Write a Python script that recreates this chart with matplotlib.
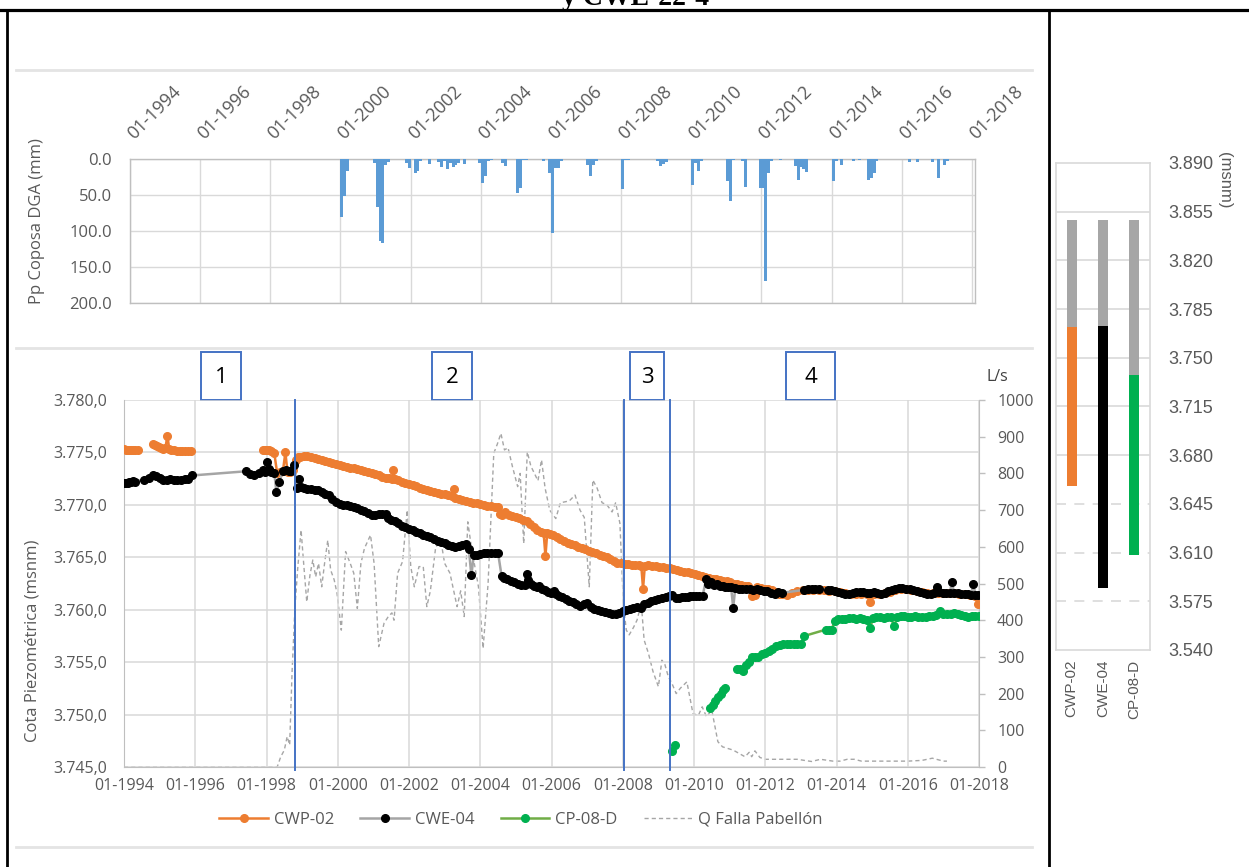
import matplotlib
matplotlib.use("Agg")
import matplotlib.pyplot as plt
from matplotlib.lines import Line2D
from matplotlib.patches import Rectangle
from matplotlib.ticker import FuncFormatter
from matplotlib.transforms import Bbox, TransformedBbox, ScaledTranslation, blended_transform_factory

NaN = float("nan")

# ---------------- Monthly precipitation, Coposa DGA (mm) ----------------
pp_month = [
    "2000-01", "2000-02", "2000-03",
    "2000-12", "2001-01", "2001-02", "2001-03", "2001-04", "2001-05",
    "2001-11", "2001-12", "2002-02", "2002-03", "2002-04",
    "2002-07", "2002-10", "2002-11", "2002-12", "2003-01", "2003-02", "2003-03", "2003-04", "2003-05", "2003-07",
    "2003-12", "2004-01", "2004-02", "2004-03", "2004-04",
    "2004-08", "2004-09",
    "2005-01", "2005-02", "2005-03", "2005-04",
    "2005-10",
    "2005-12", "2006-01", "2006-02", "2006-03", "2006-04",
    "2007-01", "2007-02", "2007-03", "2007-04",
    "2008-01", "2008-02", "2008-03",
    "2009-01", "2009-02", "2009-03", "2009-04",
    "2010-01", "2010-02", "2010-03", "2010-04",
    "2011-01", "2011-02", "2011-03", "2011-06", "2011-07",
    "2011-12", "2012-01", "2012-02", "2012-03", "2012-04",
    "2012-07",
    "2012-12", "2013-01", "2013-02", "2013-03", "2013-04",
    "2014-01", "2014-02", "2014-04", "2014-08", "2014-10",
    "2015-01", "2015-02", "2015-03", "2015-04",
    "2016-03", "2016-06", "2016-11", "2017-01", "2017-03", "2017-04",
]
pp_mm = [
    81, 52, 16,
    5, 66, 114, 116, 8, 4,
    5, 12, 20, 16, 3,
    7, 4, 11, 3, 14, 6, 11, 8, 5, 7,
    5, 33, 24, 3, 2,
    6, 10,
    47, 40, 2, 2,
    3,
    20, 103, 12, 12, 3,
    8, 23, 8, 3,
    42, 2, 2,
    3, 10, 7, 4,
    36, 5, 17, 3,
    31, 59, 2, 3, 39,
    40, 40, 170, 20, 3,
    2,
    10, 29, 11, 14, 18,
    30, 3, 8, 3, 2,
    29, 26, 19, 3,
    4, 4, 4, 27, 9, 3,
]

# ---------------- Piezometric levels (decimal year, m a.s.l.) ----------------
cwp02 = [
    (1994.00, 3775.3), (1994.05, 3775.2), (1994.10, 3775.2), (1994.15, 3775.2), (1994.20, 3775.2),
    (1994.26, 3775.2), (1994.32, 3775.2), (1994.38, 3775.2),
    (1994.60, NaN),
    (1994.80, 3775.8), (1994.86, 3775.7), (1994.92, 3775.6), (1994.98, 3775.5), (1995.04, 3775.4),
    (1995.10, 3775.3), (1995.16, 3775.4), (1995.22, 3776.6), (1995.27, 3775.3), (1995.33, 3775.2),
    (1995.40, 3775.2), (1995.48, 3775.1), (1995.56, 3775.1), (1995.64, 3775.1), (1995.72, 3775.1),
    (1995.80, 3775.1), (1995.88, 3775.1),
    (1996.90, NaN),
    (1997.90, 3775.2), (1997.96, 3775.2), (1998.02, 3775.2), (1998.08, 3775.2), (1998.14, 3775.1),
    (1998.22, 3774.9), (1998.30, 3773.0), (1998.38, 3773.1), (1998.46, 3773.2), (1998.53, 3775.0),
    (1998.59, 3773.1), (1998.66, 3773.1), (1998.74, 3773.3), (1998.82, 3774.3), (1998.88, 3774.6),
    (1998.95, 3774.6), (1999.05, 3774.7), (1999.15, 3774.7), (1999.25, 3774.6), (1999.35, 3774.5),
    (1999.45, 3774.4), (1999.55, 3774.3), (1999.65, 3774.2), (1999.75, 3774.1), (1999.85, 3774.0),
    (1999.95, 3773.9), (2000.05, 3773.8), (2000.15, 3773.7), (2000.25, 3773.6), (2000.35, 3773.5),
    (2000.45, 3773.5), (2000.55, 3773.4), (2000.65, 3773.3), (2000.75, 3773.2), (2000.85, 3773.1),
    (2000.95, 3773.0), (2001.05, 3772.9), (2001.15, 3772.8), (2001.25, 3772.7), (2001.35, 3772.6),
    (2001.45, 3772.6), (2001.52, 3772.5), (2001.56, 3773.3), (2001.60, 3772.5), (2001.70, 3772.4),
    (2001.80, 3772.2), (2001.90, 3772.1), (2002.00, 3772.0), (2002.10, 3771.9), (2002.20, 3771.8),
    (2002.30, 3771.6), (2002.40, 3771.5), (2002.50, 3771.4), (2002.60, 3771.3), (2002.70, 3771.2),
    (2002.80, 3771.1), (2002.90, 3771.0), (2003.00, 3771.0), (2003.10, 3770.9), (2003.20, 3770.8),
    (2003.25, 3771.5), (2003.30, 3770.7), (2003.40, 3770.6), (2003.50, 3770.5), (2003.60, 3770.4),
    (2003.70, 3770.3), (2003.80, 3770.2), (2003.90, 3770.2), (2004.00, 3770.1), (2004.10, 3770.0),
    (2004.20, 3769.9), (2004.30, 3769.9), (2004.40, 3769.8), (2004.50, 3769.8), (2004.55, 3769.1),
    (2004.62, 3769.0), (2004.70, 3769.3), (2004.80, 3769.0), (2004.90, 3768.9), (2005.00, 3768.8),
    (2005.10, 3768.7), (2005.20, 3768.6), (2005.30, 3768.5), (2005.40, 3768.2), (2005.50, 3767.9),
    (2005.60, 3767.6), (2005.70, 3767.4), (2005.78, 3767.3), (2005.83, 3765.1), (2005.88, 3767.3),
    (2005.95, 3767.2), (2006.05, 3767.1), (2006.15, 3766.9), (2006.25, 3766.7), (2006.35, 3766.6),
    (2006.45, 3766.4), (2006.55, 3766.3), (2006.65, 3766.2), (2006.75, 3766.0), (2006.85, 3765.9),
    (2006.95, 3765.8), (2007.05, 3765.6), (2007.15, 3765.5), (2007.25, 3765.4), (2007.35, 3765.2),
    (2007.45, 3765.1), (2007.55, 3765.0), (2007.65, 3764.8), (2007.75, 3764.6), (2007.85, 3764.5),
    (2007.95, 3764.5), (2008.05, 3764.4), (2008.15, 3764.4), (2008.25, 3764.3), (2008.35, 3764.3),
    (2008.45, 3764.3), (2008.52, 3764.2), (2008.57, 3762.0), (2008.62, 3764.2), (2008.72, 3764.3),
    (2008.82, 3764.2), (2008.92, 3764.2), (2009.02, 3764.1), (2009.12, 3764.1), (2009.22, 3764.0),
    (2009.32, 3764.0), (2009.42, 3763.9), (2009.52, 3763.8), (2009.62, 3763.7), (2009.72, 3763.6),
    (2009.82, 3763.6), (2009.92, 3763.5), (2010.02, 3763.4), (2010.12, 3763.3), (2010.22, 3763.2),
    (2010.32, 3763.1), (2010.42, 3763.0), (2010.52, 3762.9), (2010.62, 3762.9), (2010.72, 3762.8),
    (2010.82, 3762.7), (2010.92, 3762.7), (2011.02, 3762.6), (2011.12, 3762.5), (2011.22, 3762.5),
    (2011.32, 3762.4), (2011.42, 3762.3), (2011.52, 3762.3), (2011.62, 3761.3), (2011.70, 3761.4),
    (2011.78, 3762.2), (2011.88, 3762.1), (2011.98, 3762.0), (2012.08, 3762.0), (2012.18, 3761.9),
    (2012.28, 3761.7), (2012.38, 3761.5), (2012.48, 3761.5), (2012.60, 3761.4), (2012.75, 3761.6),
    (2012.90, 3761.8), (2013.05, 3761.9), (2013.20, 3761.9), (2013.35, 3761.9), (2013.50, 3761.9),
    (2013.65, 3761.9), (2013.80, 3761.8), (2013.95, 3761.8), (2014.10, 3761.7), (2014.25, 3761.6),
    (2014.40, 3761.5), (2014.55, 3761.5), (2014.70, 3761.5), (2014.85, 3761.5), (2014.95, 3760.7),
    (2015.05, 3761.5), (2015.20, 3761.5), (2015.35, 3761.6), (2015.50, 3761.7), (2015.65, 3761.9),
    (2015.80, 3762.0), (2015.95, 3762.0), (2016.10, 3761.9), (2016.25, 3761.8), (2016.40, 3761.7),
    (2016.55, 3761.6), (2016.70, 3761.6), (2016.85, 3761.6), (2017.00, 3761.6), (2017.15, 3761.6),
    (2017.30, 3761.6), (2017.45, 3761.5), (2017.60, 3761.5), (2017.75, 3761.4), (2017.90, 3761.3),
    (2017.98, 3760.5),
]

cwe04 = [
    (1994.00, 3772.1), (1994.05, 3772.1), (1994.10, 3772.1), (1994.15, 3772.15), (1994.20, 3772.2),
    (1994.25, 3772.25), (1994.30, 3772.2), (1994.55, 3772.4), (1994.70, 3772.6), (1994.80, 3772.8),
    (1994.90, 3772.75), (1995.00, 3772.6), (1995.10, 3772.4), (1995.20, 3772.4), (1995.30, 3772.5),
    (1995.40, 3772.4), (1995.50, 3772.4), (1995.60, 3772.4), (1995.70, 3772.5), (1995.80, 3772.45),
    (1995.90, 3772.8), (1997.42, 3773.2), (1997.55, 3772.9), (1997.65, 3772.8), (1997.80, 3773.0),
    (1997.90, 3773.3), (1997.96, 3773.1), (1998.00, 3774.1), (1998.06, 3773.4), (1998.14, 3773.1),
    (1998.22, 3773.0), (1998.28, 3771.2), (1998.36, 3772.2), (1998.46, 3773.2), (1998.54, 3773.3),
    (1998.62, 3773.2), (1998.70, 3773.2), (1998.78, 3773.8), (1998.85, 3771.6), (1998.92, 3772.5),
    (1998.98, 3771.7), (1999.05, 3771.6), (1999.15, 3771.55), (1999.25, 3771.5), (1999.35, 3771.45),
    (1999.45, 3771.4), (1999.55, 3771.2), (1999.65, 3771.0), (1999.75, 3770.9), (1999.85, 3770.6),
    (1999.95, 3770.3), (2000.05, 3770.1), (2000.15, 3770.0), (2000.25, 3769.95), (2000.35, 3769.9),
    (2000.45, 3769.8), (2000.55, 3769.7), (2000.65, 3769.55), (2000.75, 3769.4), (2000.85, 3769.2),
    (2000.95, 3769.05), (2001.05, 3769.0), (2001.15, 3769.1), (2001.25, 3769.1), (2001.35, 3769.15),
    (2001.42, 3768.7), (2001.50, 3768.6), (2001.60, 3768.5), (2001.70, 3768.3), (2001.80, 3768.0),
    (2001.90, 3767.9), (2002.00, 3767.7), (2002.10, 3767.6), (2002.20, 3767.4), (2002.30, 3767.3),
    (2002.40, 3767.1), (2002.50, 3767.0), (2002.60, 3766.9), (2002.70, 3766.7), (2002.80, 3766.6),
    (2002.90, 3766.5), (2003.00, 3766.4), (2003.10, 3766.2), (2003.20, 3766.1), (2003.30, 3766.0),
    (2003.40, 3766.1), (2003.50, 3766.2), (2003.60, 3766.3), (2003.68, 3765.8), (2003.75, 3763.3),
    (2003.82, 3765.2), (2003.90, 3765.2), (2004.00, 3765.3), (2004.10, 3765.4), (2004.20, 3765.4),
    (2004.30, 3765.4), (2004.40, 3765.4), (2004.50, 3765.4), (2004.60, 3763.2), (2004.68, 3763.0),
    (2004.75, 3762.9), (2004.85, 3762.7), (2004.95, 3762.6), (2005.05, 3762.5), (2005.15, 3762.4),
    (2005.25, 3762.4), (2005.30, 3763.4), (2005.35, 3762.8), (2005.42, 3762.5), (2005.50, 3762.3),
    (2005.58, 3762.2), (2005.66, 3762.3), (2005.74, 3762.0), (2005.82, 3761.9), (2005.90, 3761.7),
    (2005.98, 3761.6), (2006.06, 3761.8), (2006.14, 3761.5), (2006.22, 3761.3), (2006.30, 3761.2),
    (2006.40, 3761.0), (2006.50, 3760.8), (2006.60, 3760.7), (2006.70, 3760.5), (2006.80, 3760.4),
    (2006.90, 3760.5), (2007.00, 3760.6), (2007.10, 3760.3), (2007.20, 3760.1), (2007.30, 3760.0),
    (2007.40, 3759.9), (2007.50, 3759.8), (2007.60, 3759.7), (2007.70, 3759.6), (2007.80, 3759.6),
    (2007.90, 3759.7), (2008.00, 3759.9), (2008.10, 3760.0), (2008.20, 3760.1), (2008.30, 3760.2),
    (2008.40, 3760.3), (2008.50, 3760.2), (2008.60, 3760.5), (2008.70, 3760.6), (2008.80, 3760.8),
    (2008.90, 3760.9), (2009.00, 3761.0), (2009.10, 3761.1), (2009.20, 3761.2), (2009.30, 3761.3),
    (2009.38, 3761.4), (2009.50, 3761.1), (2009.58, 3761.1), (2009.66, 3761.2), (2009.74, 3761.2),
    (2009.82, 3761.2), (2009.90, 3761.3), (2009.98, 3761.3), (2010.06, 3761.3), (2010.14, 3761.3),
    (2010.24, 3761.3), (2010.34, 3762.9), (2010.40, 3762.5), (2010.48, 3762.6), (2010.56, 3762.4),
    (2010.64, 3762.5), (2010.72, 3762.3), (2010.80, 3762.3), (2010.88, 3762.2), (2010.96, 3762.2),
    (2011.04, 3762.2), (2011.10, 3760.2), (2011.16, 3762.1), (2011.26, 3762.0), (2011.36, 3762.0),
    (2011.46, 3762.0), (2011.56, 3762.0), (2011.66, 3761.9), (2011.76, 3762.0), (2011.86, 3761.9),
    (2011.96, 3761.8), (2012.06, 3761.8), (2012.16, 3761.6), (2012.26, 3761.5), (2012.36, 3761.7),
    (2012.46, 3761.6), (2013.10, 3761.9), (2013.20, 3762.0), (2013.30, 3762.0), (2013.40, 3762.0),
    (2013.50, 3762.0), (2013.75, 3761.9), (2013.85, 3761.9), (2013.95, 3761.8), (2014.05, 3761.7),
    (2014.15, 3761.6), (2014.25, 3761.5), (2014.35, 3761.5), (2014.45, 3761.6), (2014.55, 3761.7),
    (2014.65, 3761.7), (2014.75, 3761.7), (2014.85, 3761.6), (2014.95, 3761.6), (2015.05, 3761.7),
    (2015.15, 3761.6), (2015.25, 3761.5), (2015.35, 3761.6), (2015.45, 3761.8), (2015.55, 3761.9),
    (2015.65, 3762.0), (2015.75, 3762.1), (2015.85, 3762.1), (2015.95, 3762.0), (2016.05, 3762.0),
    (2016.15, 3761.9), (2016.25, 3761.8), (2016.35, 3761.7), (2016.45, 3761.6), (2016.55, 3761.5),
    (2016.65, 3761.5), (2016.75, 3761.6), (2016.81, 3762.2), (2016.88, 3761.7), (2016.98, 3761.6),
    (2017.08, 3761.6), (2017.18, 3761.6), (2017.24, 3762.6), (2017.30, 3761.6), (2017.40, 3761.6),
    (2017.50, 3761.5), (2017.60, 3761.5), (2017.70, 3761.5), (2017.78, 3761.4), (2017.84, 3762.5),
    (2017.90, 3761.4), (2017.98, 3761.4),
]

cp08d = [
    (2009.37, 3746.5), (2009.48, 3747.1),
    (2009.90, NaN),
    (2010.45, 3750.6), (2010.52, 3750.9), (2010.60, 3751.3), (2010.67, 3751.7), (2010.75, 3752.0),
    (2010.82, 3752.3), (2010.88, 3752.5),
    (2011.05, NaN),
    (2011.22, 3754.3), (2011.30, 3754.3), (2011.38, 3754.2), (2011.46, 3754.7), (2011.54, 3755.0),
    (2011.62, 3755.5), (2011.70, 3755.5), (2011.80, 3755.5), (2011.90, 3755.8), (2012.00, 3755.9),
    (2012.10, 3756.1), (2012.20, 3756.3), (2012.30, 3756.5), (2012.40, 3756.6), (2012.50, 3756.7),
    (2012.60, 3756.7), (2012.70, 3756.7), (2012.80, 3756.7), (2012.90, 3756.7), (2013.00, 3756.7),
    (2013.10, 3757.5), (2013.70, 3758.1), (2013.78, 3758.1), (2013.86, 3758.1), (2013.95, 3758.9),
    (2014.05, 3759.1), (2014.15, 3759.1), (2014.25, 3759.1), (2014.35, 3759.2), (2014.45, 3759.2),
    (2014.55, 3759.1), (2014.65, 3759.2), (2014.75, 3759.1), (2014.85, 3759.0), (2014.95, 3758.3),
    (2015.02, 3759.2), (2015.12, 3759.3), (2015.22, 3759.3), (2015.32, 3759.2), (2015.42, 3759.3),
    (2015.52, 3759.3), (2015.62, 3758.4), (2015.70, 3759.3), (2015.80, 3759.4), (2015.90, 3759.4),
    (2016.00, 3759.3), (2016.10, 3759.3), (2016.20, 3759.4), (2016.30, 3759.3), (2016.40, 3759.3),
    (2016.50, 3759.3), (2016.60, 3759.4), (2016.70, 3759.4), (2016.80, 3759.5), (2016.90, 3759.9),
    (2017.00, 3759.6), (2017.10, 3759.6), (2017.20, 3759.6), (2017.30, 3759.7), (2017.40, 3759.6),
    (2017.50, 3759.5), (2017.60, 3759.4), (2017.70, 3759.3), (2017.80, 3759.4), (2017.90, 3759.4),
    (2018.00, 3759.4),
]

# ---------------- Discharge of Falla Pabellón (L/s) ----------------
q_falla = [
    (1994.00, 0), (1995.00, 0), (1996.00, 0), (1997.00, 0), (1998.00, 0), (1998.30, 0),
    (1998.40, 28), (1998.50, 46), (1998.58, 83), (1998.65, 60), (1998.72, 264), (1998.80, 437),
    (1998.88, 546), (1998.97, 646), (1999.05, 546), (1999.13, 450), (1999.22, 523), (1999.30, 564),
    (1999.38, 518), (1999.46, 555), (1999.55, 491), (1999.63, 555), (1999.72, 618), (1999.80, 537),
    (1999.90, 510), (1999.98, 473), (2000.10, 373), (2000.22, 587), (2000.35, 555), (2000.45, 528),
    (2000.55, 432), (2000.65, 555), (2000.75, 596), (2000.92, 632), (2001.02, 555), (2001.15, 328),
    (2001.30, 392), (2001.42, 410), (2001.52, 420), (2001.58, 400), (2001.68, 528), (2001.82, 560),
    (2001.95, 700), (2002.05, 546), (2002.15, 491), (2002.28, 546), (2002.40, 546), (2002.50, 437),
    (2002.60, 480), (2002.75, 600), (2002.90, 614), (2003.00, 555), (2003.15, 528), (2003.35, 437),
    (2003.45, 480), (2003.55, 410), (2003.65, 668), (2003.75, 600), (2003.85, 546), (2003.95, 491),
    (2004.08, 323), (2004.22, 500), (2004.38, 855), (2004.48, 880), (2004.58, 909), (2004.68, 864),
    (2004.78, 870), (2004.90, 820), (2005.05, 764), (2005.12, 800), (2005.22, 609), (2005.32, 859),
    (2005.42, 820), (2005.52, 800), (2005.62, 780), (2005.72, 837), (2005.82, 760), (2005.95, 700),
    (2006.12, 677), (2006.25, 720), (2006.50, 725), (2006.66, 741), (2006.80, 700), (2006.92, 680),
    (2007.06, 491), (2007.16, 782), (2007.28, 760), (2007.42, 720), (2007.55, 715), (2007.70, 695),
    (2007.80, 720), (2007.92, 664), (2008.02, 440), (2008.10, 373), (2008.18, 360), (2008.30, 380),
    (2008.40, 400), (2008.52, 446), (2008.60, 346), (2008.72, 310), (2008.85, 260), (2009.00, 219),
    (2009.10, 291), (2009.18, 280), (2009.28, 246), (2009.38, 228), (2009.50, 200), (2009.62, 215),
    (2009.80, 232), (2009.97, 146), (2010.12, 140), (2010.23, 164), (2010.35, 137), (2010.50, 155),
    (2010.67, 69), (2010.80, 55), (2011.10, 46), (2011.43, 28), (2011.55, 40), (2011.62, 28),
    (2011.71, 44), (2011.85, 26), (2012.00, 21), (2012.50, 21), (2012.90, 21), (2013.30, 15),
    (2013.55, 21), (2013.90, 16), (2014.10, 16), (2014.30, 21), (2014.50, 21), (2014.70, 16),
    (2015.00, 16), (2015.50, 16), (2016.00, 16), (2016.40, 18), (2016.69, 24), (2016.85, 20),
    (2017.00, 16), (2017.10, 16),
]

# Period boundaries (decimal year) and period numbers
period_limits = [1998.80, 2008.04, 2009.33]
period_labels = ["1", "2", "3", "4"]

# ---------------- Well construction (m a.s.l.) ----------------
wells = ["CWP-02", "CWE-04", "CP-08-D"]
well_collar = [3849.0, 3849.0, 3849.0]
screen_top = [3772.0, 3773.0, 3737.6]
screen_bottom = [3657.7, 3584.6, 3608.3]
well_colors = ["#ED7D31", "#000000", "#00B050"]

# ---------------------------------------------------------------------------
W, H = 1249, 867
plt.rcParams["font.family"] = ["Open Sans", "DejaVu Sans"]
GRID = "#D9D9D9"
AXIS = "#BFBFBF"
TXT = "#595959"
MS = 5.5

fig = plt.figure(figsize=(W / 100, H / 100), dpi=100)


def fx(px):
    return px / W


def fy(py):
    return 1 - py / H


def box(left, top, right, bottom):
    return [fx(left), fy(bottom), fx(right) - fx(left), fy(top) - fy(bottom)]


def unzip(pairs):
    return [p[0] for p in pairs], [p[1] for p in pairs]


def es_thousands(v, dec):
    s = f"{v:,.{dec}f}"
    return s.replace(",", "X").replace(".", ",").replace("X", ".")


# ---- page frame and separators ----
fig.add_artist(Line2D([0, 1], [fy(10), fy(10)], color="black", lw=2.3, transform=fig.transFigure))
fig.add_artist(Line2D([fx(7), fx(7)], [fy(10), 0], color="black", lw=2.0, transform=fig.transFigure))
fig.add_artist(Line2D([fx(1049), fx(1049)], [fy(10), 0], color="black", lw=2.0, transform=fig.transFigure))
for ys in (70, 348, 847):
    fig.add_artist(Line2D([fx(16), fx(1032)], [fy(ys), fy(ys)], color="#E4E4E4", lw=2.0,
                          transform=fig.transFigure))
fig.text(fx(636), fy(5), "y CWE-22-4", ha="center", va="baseline", fontsize=20,
         fontweight="bold", family="Liberation Serif", color="black")

# ---- precipitation panel ----
pp_x = [int(m[:4]) + (int(m[5:]) - 1) / 12 for m in pp_month]
ax_p = fig.add_axes(box(130, 159, 975, 303))
ax_p.bar(pp_x, pp_mm, width=1 / 12, align="edge", color="#5B9BD5", zorder=3)
ax_p.set_xlim(1994, 2018 + 3 / 35.08)
ax_p.set_ylim(200, 0)
ax_p.set_yticks([0, 50, 100, 150, 200])
ax_p.yaxis.set_major_formatter(FuncFormatter(lambda v, p: f"{v:.1f}"))
years = list(range(1994, 2019, 2))
ax_p.set_xticks(years)
ax_p.tick_params(axis="x", length=0, labelbottom=False, labeltop=False)
ax_p.tick_params(axis="y", length=0, pad=13, labelsize=12, colors=TXT)
ax_p.grid(True, color=GRID, lw=1.0, zorder=0)
ax_p.set_axisbelow(True)
for s in ax_p.spines.values():
    s.set_color(AXIS)
    s.set_linewidth(1.0)

# slanted date labels above the precipitation panel (clipped at the chart area edge)
clip_bb = TransformedBbox(Bbox([[0, 0], [fx(1024), 1]]), fig.transFigure)
lab_tr = blended_transform_factory(ax_p.transData, ax_p.transAxes) + \
    ScaledTranslation(4 / 100, 19 / 100, fig.dpi_scale_trans)
for y in years:
    t = ax_p.text(y, 1.0, f"01-{y}", transform=lab_tr, rotation=45, rotation_mode="anchor",
                  ha="left", va="baseline", fontsize=13, color=TXT)
    t.set_clip_box(clip_bb)
    t.set_clip_on(True)
fig.text(fx(37), fy(221), "Pp Coposa DGA (mm)", rotation=90, ha="center", va="center",
         fontsize=12, color=TXT)

# ---- piezometric levels panel ----
ax = fig.add_axes(box(124, 400, 979, 767))
axq = ax.twinx()
ax.set_zorder(axq.get_zorder() + 1)
ax.patch.set_visible(False)

qt, qv = unzip(q_falla)
axq.plot(qt, qv, color="#A6A6A6", lw=1.0, ls=(0, (3, 2.2)), zorder=2)
axq.set_ylim(0, 1000)
axq.set_yticks(range(0, 1001, 100))
axq.tick_params(axis="y", length=4, width=1, color=AXIS, pad=9, labelsize=11.5, labelcolor=TXT)
for s in axq.spines.values():
    s.set_visible(False)
axq.spines["right"].set_visible(True)
axq.spines["right"].set_color(AXIS)

t, z = unzip(cwe04)
ax.plot(t, z, color="#A5A5A5", lw=1.8, marker="o", ms=MS, mfc="black", mec="black", zorder=4)
t, z = unzip(cwp02)
ax.plot(t, z, color="#ED7D31", lw=1.8, marker="o", ms=MS, mfc="#ED7D31", mec="#ED7D31", zorder=3)
t, z = unzip(cp08d)
ax.plot(t, z, color="#70AD47", lw=1.8, marker="o", ms=MS, mfc="#00B050", mec="#00B050", zorder=4)

ax.set_xlim(1994, 2018)
ax.set_ylim(3745, 3780)
ax.set_yticks(range(3745, 3781, 5))
ax.yaxis.set_major_formatter(FuncFormatter(lambda v, p: es_thousands(v, 1)))
ax.set_xticks(years)
ax.set_xticklabels([f"01-{y}" for y in years])
ax.tick_params(axis="both", length=0, labelsize=11.5, colors=TXT)
ax.tick_params(axis="x", pad=8)
ax.tick_params(axis="y", pad=12)
ax.grid(True, color=GRID, lw=1.1, zorder=0)
ax.spines["top"].set_visible(False)
ax.spines["right"].set_visible(False)
ax.spines["left"].set_color(AXIS)
ax.spines["bottom"].set_color(AXIS)

for yr in period_limits:
    ax.plot([yr, yr], [3780, 3744.7], color="#4472C4", lw=1.4, zorder=6, clip_on=False)

fig.text(fx(33), fy(641), "Cota Piezométrica (msnm)", rotation=90, ha="center", va="center",
         fontsize=12, color=TXT)
fig.text(fx(997), fy(377), "L/s", ha="center", va="center", fontsize=11.5, color="#404040")

# numbered period boxes above the plot
period_boxes = [(201, 241), (432, 472), (630, 664), (786, 835)]
for (x0, x1), lab in zip(period_boxes, period_labels):
    fig.add_artist(Rectangle((fx(x0), fy(400)), fx(x1) - fx(x0), fy(352) - fy(400),
                             transform=fig.transFigure, facecolor="white", edgecolor="#4472C4",
                             lw=1.4))
    fig.text(fx((x0 + x1) / 2), fy(377), lab, ha="center", va="center", fontsize=16, color="black")

handles = [
    Line2D([], [], color="#ED7D31", lw=1.8, marker="o", ms=MS, mfc="#ED7D31", mec="#ED7D31"),
    Line2D([], [], color="#A5A5A5", lw=1.8, marker="o", ms=MS, mfc="black", mec="black"),
    Line2D([], [], color="#70AD47", lw=1.8, marker="o", ms=MS, mfc="#00B050", mec="#00B050"),
    Line2D([], [], color="#A6A6A6", lw=1.0, ls=(0, (3, 2.2))),
]
fig.legend(handles, ["CWP-02", "CWE-04", "CP-08-D", "Q Falla Pabellón"], loc="center",
           bbox_to_anchor=(fx(521), fy(820)), ncol=4, frameon=False, fontsize=12,
           handlelength=2.9, handletextpad=0.35, columnspacing=1.6, numpoints=1,
           labelcolor=TXT)

# ---- well construction panel ----
ax_r = fig.add_axes(box(1056, 163, 1150, 650))
pos = list(range(len(wells)))
ax_r.bar(pos, [c - t for c, t in zip(well_collar, screen_top)], bottom=screen_top,
         width=0.32, color="#A6A6A6", zorder=3)
ax_r.bar(pos, [t - b for t, b in zip(screen_top, screen_bottom)], bottom=screen_bottom,
         width=0.32, color=well_colors, zorder=3)
ax_r.set_xlim(-0.5, 2.5)
ax_r.set_ylim(3540, 3890)
rticks = list(range(3540, 3891, 35))
ax_r.set_yticks(rticks)
ax_r.yaxis.set_major_formatter(FuncFormatter(lambda v, p: f"{int(round(v)):,}".replace(",", ".")))
ax_r.yaxis.tick_right()
ax_r.set_xticks(pos)
ax_r.set_xticklabels(wells, rotation=90, family="Liberation Sans", fontsize=11, color=TXT)
ax_r.tick_params(axis="x", length=0, pad=7)
ax_r.tick_params(axis="y", length=0, pad=13, labelsize=13, colors=TXT)
for lab in ax_r.get_yticklabels():
    lab.set_family("Liberation Sans")
for v in rticks[1:-1]:
    ls = "-" if v >= 3680 else (0, (6, 5))
    ax_r.axhline(v, color=GRID, lw=1.2, ls=ls, zorder=1)
for s in ax_r.spines.values():
    s.set_color(GRID)
    s.set_linewidth(1.2)
fig.text(fx(1225), fy(180), "(msnm)", rotation=-90, ha="center", va="center", fontsize=12,
         family="Liberation Sans", color=TXT)

fig.savefig("out.png", dpi=100)
